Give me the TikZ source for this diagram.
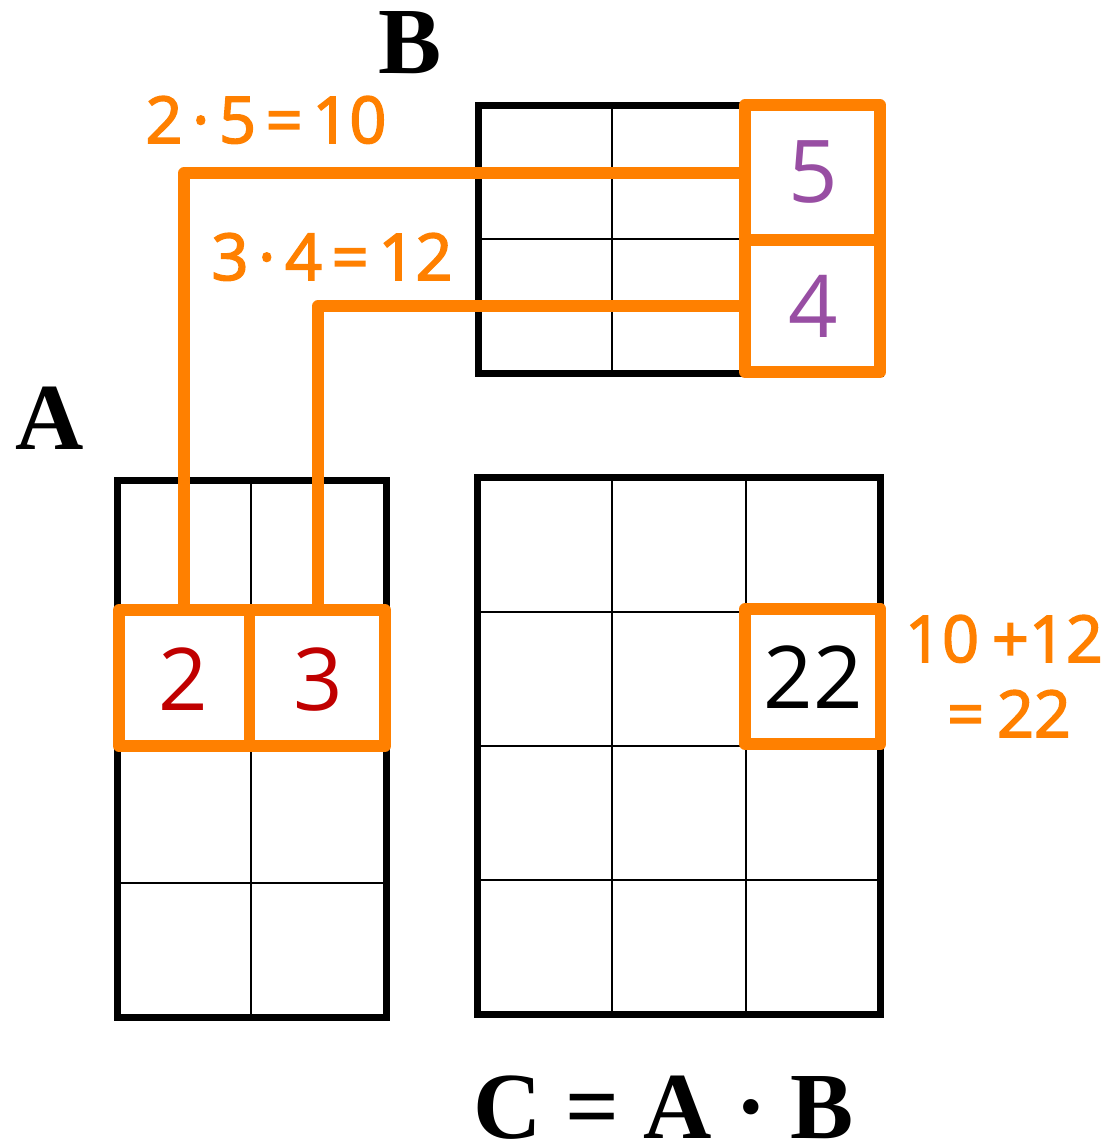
\documentclass[tikz,border=0pt]{standalone}
\usepackage{fontspec}
\setmainfont{Liberation Serif}
\newfontfamily\osans{Open Sans}
\newfontfamily\osemi[FakeBold=2.5]{Open Sans}
\definecolor{hlorange}{HTML}{FF8000}
\definecolor{numred}{HTML}{C00000}
\definecolor{numpurple}{HTML}{984EA3}
\begin{document}
\begin{tikzpicture}[x=0.75pt,y=-0.75pt,
  outerline/.style={line width=5.25pt},
  innerline/.style={line width=1.9pt},
  hl/.style={draw=hlorange,line width=8.6pt,line join=round,line cap=round},
  cellnum/.style={font=\osans\fontsize{65}{70}\selectfont,anchor=base,inner sep=0pt},
  eqlab/.style={font=\osemi\fontsize{48.5}{52}\selectfont,text=hlorange,anchor=base,inner sep=0pt},
  titlelab/.style={font=\bfseries\fontsize{71}{75}\selectfont,anchor=base,inner sep=0pt}]
\useasboundingbox (0,0) rectangle (1109,1146);
% Matrix A
\draw[innerline] (251,480) -- (251,1017);
\foreach \yy in {614,748,883} \draw[innerline] (117,\yy) -- (386,\yy);
\draw[outerline] (117,480) rectangle (386,1017);
% Matrix B
\foreach \xx in {612,746} \draw[innerline] (\xx,105) -- (\xx,373);
\draw[innerline] (478,239) -- (880,239);
\draw[outerline] (478,105) rectangle (880,373);
% Matrix C
\foreach \xx in {612,746} \draw[innerline] (\xx,477) -- (\xx,1014);
\foreach \yy in {612,746,880} \draw[innerline] (477,\yy) -- (880,\yy);
\draw[outerline] (477,477) rectangle (880,1014);
% connectors
\coordinate (A1top) at (184,610);
\coordinate (A2top) at (318,610);
\coordinate (B1left) at (745,173);
\coordinate (B2left) at (745,306);
\draw[hl] (A1top) |- (B1left);
\draw[hl] (A2top) |- (B2left);
% highlights
\draw[hl] (119,610) rectangle (385,746);
\draw[hl] (249.5,610) -- (249.5,746);
\draw[hl] (745,105) rectangle (880,372);
\draw[hl] (745,240) -- (880,240);
\draw[hl] (745,609) rectangle (880.5,744);
% numbers
\node[cellnum,text=numred] (a21) at (183,710) {2};
\node[cellnum,text=numred] (a22) at (318,710) {3};
\node[cellnum,text=numpurple] (b13) at (813,202) {5};
\node[cellnum,text=numpurple] (b23) at (813,337) {4};
\node[cellnum] (c23) at (813,708) {22};
% labels
\node[eqlab] (p1) at (266,143) {2\kern.15em·\kern.15em5\kern.15em=\kern.15em10};
\node[eqlab] (p2) at (332,280) {3\kern.15em·\kern.15em4\kern.15em=\kern.15em12};
\node[eqlab] (s1) at (1004,662) {10\kern.2em+12};
\node[eqlab] (s2) at (1009,737) {=\kern.2em22};
\node[titlelab] (lB) at (410,73) {B};
\node[titlelab] (lA) at (50,449) {A};
\node[titlelab] (eq) at (664,1138) {C = A · B};
\end{tikzpicture}
\end{document}
